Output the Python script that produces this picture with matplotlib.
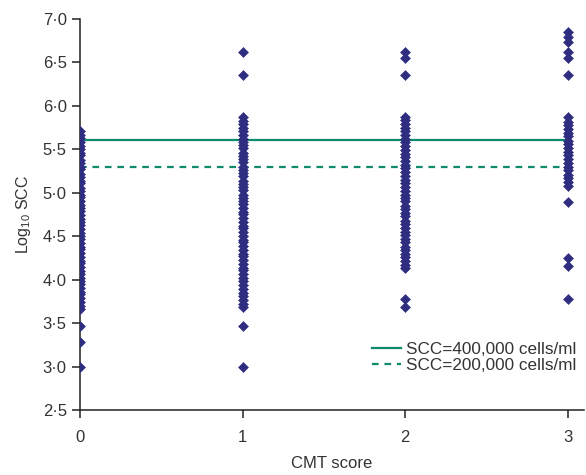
import matplotlib
matplotlib.use('Agg')
import matplotlib.pyplot as plt
from matplotlib.ticker import FuncFormatter, MultipleLocator

plt.rcParams['font.family'] = ['Liberation Sans', 'DejaVu Sans']
plt.rcParams['mathtext.fontset'] = 'custom'
plt.rcParams['mathtext.rm'] = 'Liberation Sans'
plt.rcParams['mathtext.it'] = 'Liberation Sans'

# log10 SCC per CMT score
cmt_scores = [0, 1, 2, 3]
scc_cmt0 = [2.99, 3.28, 3.47, 3.66, 3.70, 3.74, 3.79, 3.83, 3.86, 3.90, 3.95, 3.99,
            4.02, 4.06, 4.10, 4.15, 4.19, 4.22, 4.26, 4.31, 4.35, 4.38, 4.42, 4.47,
            4.50, 4.54, 4.58, 4.63, 4.66, 4.70, 4.74, 4.79, 4.82, 4.86, 4.90, 4.95,
            4.98, 5.02, 5.06, 5.11, 5.14, 5.18, 5.22, 5.27, 5.30, 5.34, 5.38, 5.43,
            5.46, 5.50, 5.54, 5.59, 5.63, 5.67, 5.71]
scc_cmt1 = [2.99, 3.47, 3.68, 3.72, 3.77, 3.81, 3.85, 3.89, 3.94, 3.98, 4.02, 4.06,
            4.11, 4.14, 4.18, 4.23, 4.27, 4.30, 4.34, 4.39, 4.43, 4.46, 4.50, 4.55,
            4.59, 4.62, 4.66, 4.71, 4.75, 4.78, 4.82, 4.87, 4.91, 4.94, 4.98, 5.03,
            5.07, 5.10, 5.14, 5.19, 5.23, 5.26, 5.30, 5.35, 5.39, 5.42, 5.46, 5.51,
            5.55, 5.58, 5.62, 5.67, 5.71, 5.74, 5.79, 5.83, 5.87, 6.35, 6.62]
scc_cmt2 = [3.69, 3.78, 4.13, 4.17, 4.21, 4.26, 4.30, 4.34, 4.38, 4.43, 4.47, 4.51,
            4.55, 4.60, 4.64, 4.68, 4.73, 4.77, 4.81, 4.85, 4.90, 4.94, 4.98, 5.02,
            5.07, 5.11, 5.15, 5.19, 5.24, 5.28, 5.32, 5.37, 5.41, 5.45, 5.49, 5.54,
            5.58, 5.62, 5.66, 5.71, 5.75, 5.79, 5.84, 5.87, 6.35, 6.55, 6.62]
scc_cmt3 = [3.78, 4.16, 4.25, 4.89, 5.08, 5.12, 5.17, 5.21, 5.26, 5.30, 5.34, 5.39,
            5.43, 5.47, 5.52, 5.56, 5.60, 5.65, 5.69, 5.73, 5.78, 5.82, 5.87, 6.36,
            6.55, 6.62, 6.74, 6.79, 6.85]

thresholds = [5.602, 5.301]   # log10(400000), log10(200000)
threshold_labels = ['SCC=400,000 cells/ml', 'SCC=200,000 cells/ml']
threshold_styles = ['-', (0, (3, 2.6))]

point_color = '#2e2d80'
line_color = '#0f8a6c'

fig = plt.figure(figsize=(5.86, 4.75), dpi=100)
ax = fig.add_axes([80 / 586, 65 / 475, 3.1 * 162.5 / 586, 391 / 475])

for score, vals in zip(cmt_scores, [scc_cmt0, scc_cmt1, scc_cmt2, scc_cmt3]):
    ax.plot([score] * len(vals), vals, linestyle='none', marker='D',
            markersize=4.6, color=point_color, markeredgewidth=0.4,
            markeredgecolor=point_color, zorder=3)

for y, lab, ls in zip(thresholds, threshold_labels, threshold_styles):
    ax.plot([cmt_scores[0], cmt_scores[-1]], [y, y], color=line_color,
            linewidth=1.6, linestyle=ls, label=lab, zorder=2)

ax.set_xlim(0, 3.1)
ax.set_ylim(2.5, 7.0)
ax.set_xticks(cmt_scores)
ax.yaxis.set_major_locator(MultipleLocator(0.5))
ax.yaxis.set_major_formatter(FuncFormatter(lambda v, p: f'{v:.1f}'.replace('.', '\u00b7')))

for side in ['top', 'right']:
    ax.spines[side].set_visible(False)
for side in ['left', 'bottom']:
    ax.spines[side].set_linewidth(1.1)
    ax.spines[side].set_color('#222222')

ax.tick_params(axis='both', direction='out', length=6, width=1.1, colors='#222222',
               labelsize=12, labelcolor='#333333')
ax.tick_params(axis='x', pad=8.5)
ax.tick_params(axis='y', pad=3.5)

ax.set_xlabel('CMT score', fontsize=12, color='#333333', labelpad=8)
ax.set_ylabel('Log$_{10}$ SCC', fontsize=11.5, color='#333333', labelpad=7)

ax.legend(loc='center left', bbox_to_anchor=(0.58, 0.134), frameon=False,
          fontsize=12.3, handlelength=1.7, handletextpad=0.3, labelspacing=0.08,
          borderpad=0, borderaxespad=0, labelcolor='#333333')

fig.savefig('out.png', dpi=100)
